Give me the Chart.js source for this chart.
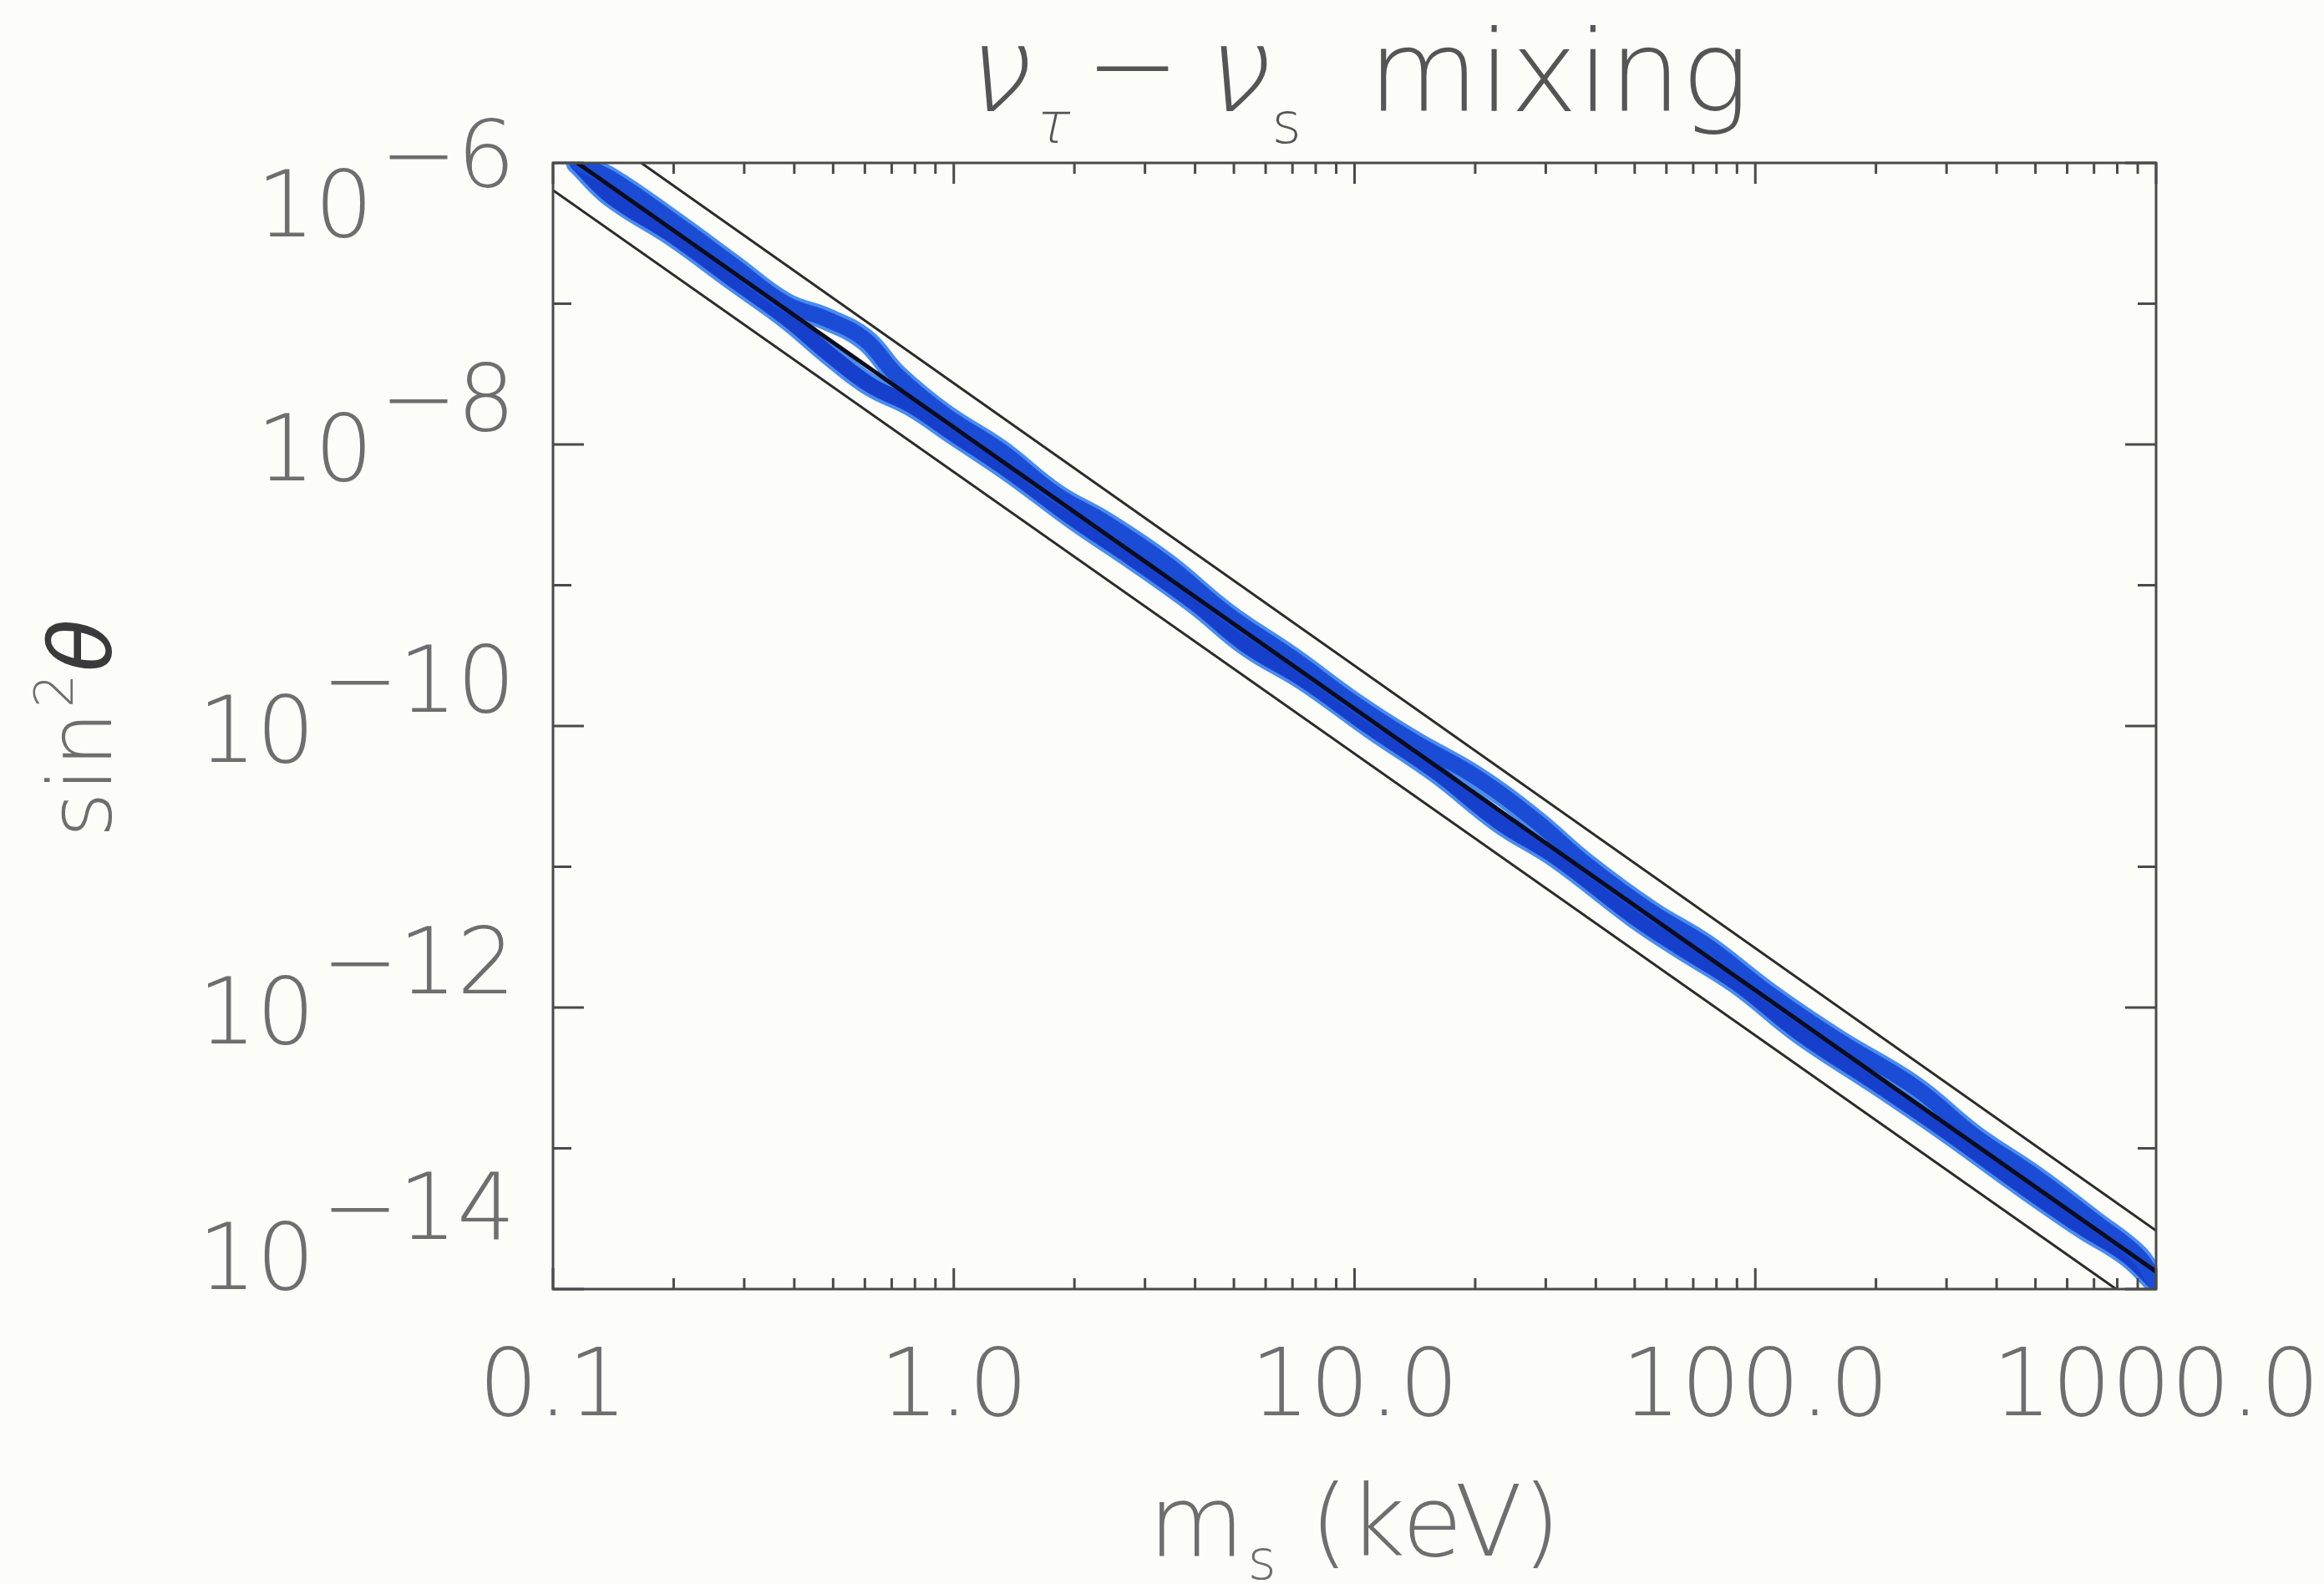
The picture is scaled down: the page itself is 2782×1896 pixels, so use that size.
<!DOCTYPE html>
<html>
<head>
<meta charset="utf-8">
<title>nu_tau - nu_s mixing</title>
<script src="https://cdn.jsdelivr.net/npm/chart.js@4.4.1/dist/chart.umd.min.js"></script>
<style>
  html, body { margin: 0; padding: 0; background: #fcfcf8; }
  #wrap { width: 2782px; height: 1896px; position: relative; }
</style>
</head>
<body>
<div id="wrap"><canvas id="mixChart"></canvas></div>
<script>
// Axis ranges and tick labels
const massRange = [0.1, 1000];
const mixRange = [1e-14, 1e-6];
const massTicks = [0.1, 1, 10, 100, 1000];
const massTickLabels = ['0.1', '1.0', '10.0', '100.0', '1000.0'];
const mixTickExponents = [-6, -8, -10, -12, -14];

// Straight black lines (m_s in keV, sin^2 theta)
const upperMass = [0.166, 1000];
const upperMix = [1.0e-6, 2.6e-14];
const centralMass = [0.115, 1000];
const centralMix = [1.0e-6, 1.33e-14];
const lowerMass = [0.1, 795];
const lowerMix = [6.4e-7, 1.0e-14];

// Blue marker strokes drawn along the central line
const blueUpperMass = [0.115, 0.14, 0.2, 0.28, 0.38, 0.48, 0.6, 0.72, 0.95, 1.3, 1.8, 2.4, 3.4, 4.8, 7, 10, 14, 20, 28, 38, 55, 75, 110, 160, 250, 350, 500, 700, 900, 1000];
const blueUpperMix = [1.0e-6, 7.67e-7, 3.81e-7, 1.89e-7, 1.0e-7, 7.80e-8, 5.57e-8, 3.11e-8, 1.62e-8, 9.14e-9, 4.40e-9, 2.76e-9, 1.41e-9, 6.26e-10, 3.03e-10, 1.44e-10, 7.78e-11, 4.37e-11, 2.17e-11, 1.03e-11, 4.77e-12, 2.79e-12, 1.21e-12, 5.88e-13, 2.72e-13, 1.24e-13, 6.27e-14, 3.03e-14, 1.73e-14, 1.1e-14];
const blueLowerMass = [0.115, 0.14, 0.2, 0.28, 0.38, 0.5, 0.62, 0.78, 1.0, 1.4, 2.0, 2.8, 4.0, 5.4, 7.5, 11, 16, 23, 32, 50, 65, 90, 130, 200, 300, 450, 650, 850, 1000];
const blueLowerMix = [1.0e-6, 5.76e-7, 3.02e-7, 1.50e-7, 8.03e-8, 4.16e-8, 2.63e-8, 1.91e-8, 1.19e-8, 6.25e-9, 2.94e-9, 1.54e-9, 7.45e-10, 3.72e-10, 2.12e-10, 9.72e-11, 4.72e-11, 2.08e-11, 1.16e-11, 4.39e-12, 2.67e-12, 1.49e-12, 6.50e-13, 2.90e-13, 1.32e-13, 5.73e-14, 2.78e-14, 1.72e-14, 1.1e-14];

const labelFont = "'DejaVu Sans', 'Liberation Sans', sans-serif";
const textGrey = '#6e6e6e';

function toPoints(xs, ys) {
    return xs.map((x, i) => ({ x: x, y: ys[i] }));
}

// Background colour of the scanned page
const pageBackground = {
    id: 'pageBackground',
    beforeDraw(chart) {
        const ctx = chart.ctx;
        ctx.save();
        ctx.fillStyle = '#fcfcf8';
        ctx.fillRect(0, 0, chart.width, chart.height);
        ctx.restore();
    }
};

// Box frame with inward ticks on all four sides
const axisFrame = {
    id: 'axisFrame',
    afterDatasetsDraw(chart) {
        const { ctx, chartArea: a, scales: { x, y } } = chart;
        ctx.save();
        ctx.strokeStyle = '#4a4a4a';
        ctx.lineWidth = 3;
        ctx.strokeRect(a.left, a.top, a.right - a.left, a.bottom - a.top);

        ctx.beginPath();
        for (let d = -1; d <= 3; d++) {
            for (let k = 1; k <= 9; k++) {
                const v = k * Math.pow(10, d);
                if (v > massRange[1] * 1.0001) continue;
                const px = x.getPixelForValue(v);
                const len = k === 1 ? 25 : 13;
                ctx.moveTo(px, a.bottom);
                ctx.lineTo(px, a.bottom - len);
                ctx.moveTo(px, a.top);
                ctx.lineTo(px, a.top + len);
            }
        }
        for (let e = -14; e <= -6; e++) {
            const py = y.getPixelForValue(Math.pow(10, e));
            const len = mixTickExponents.includes(e) ? 37 : 22;
            ctx.moveTo(a.left, py);
            ctx.lineTo(a.left + len, py);
            ctx.moveTo(a.right, py);
            ctx.lineTo(a.right - len, py);
        }
        ctx.stroke();
        ctx.restore();
    }
};

// Draws a run of text pieces (with sub/superscripts) centred on cx
function drawPieces(ctx, pieces, cx, baseline) {
    let total = 0;
    pieces.forEach(p => {
        ctx.font = p.font;
        p.w = ctx.measureText(p.text).width;
        total += p.w + (p.gap || 0);
    });
    let xPos = cx - total / 2;
    ctx.textAlign = 'left';
    ctx.textBaseline = 'alphabetic';
    pieces.forEach(p => {
        ctx.font = p.font;
        ctx.fillStyle = p.color || textGrey;
        ctx.save();
        ctx.translate(xPos, baseline + (p.dy || 0));
        if (p.skew) ctx.transform(1, 0, -p.skew, 1, 0, 0);
        ctx.fillText(p.text, 0, 0);
        ctx.restore();
        xPos += p.w + (p.gap || 0);
    });
}

// Title, axis titles and the 10^-n labels of the y axis
const plotText = {
    id: 'plotText',
    afterDraw(chart) {
        const { ctx, chartArea: a, scales: { y } } = chart;
        ctx.save();

        // y tick labels: "10" with a raised exponent
        ctx.font = `200 110px ${labelFont}`;
        ctx.fillStyle = textGrey;
        ctx.textAlign = 'right';
        ctx.textBaseline = 'alphabetic';
        const labelRight = a.left - 45;
        mixTickExponents.forEach(e => {
            const py = y.getPixelForValue(Math.pow(10, e));
            const centre = Math.min(Math.max(py + 3, a.top + 48), a.bottom - 40);
            const baseline = centre + 40;
            const expText = '\u2212' + Math.abs(e);
            ctx.fillText(expText, labelRight, baseline - 60);
            const w = ctx.measureText(expText).width;
            ctx.fillText('10', labelRight - w - 8, baseline);
        });

        const midX = (a.left + a.right) / 2;

        // Title
        const titleGrey = '#555555';
        drawPieces(ctx, [
            { text: '\u03bd', font: `200 142px ${labelFont}`, skew: 0.22, color: titleGrey, gap: 8 },
            { text: '\u03c4', font: `200 68px ${labelFont}`, skew: 0.22, dy: 38, color: titleGrey, gap: 22 },
            { text: '\u2212', font: `200 136px ${labelFont}`, dy: -8, color: titleGrey, gap: 22 },
            { text: '\u03bd', font: `200 142px ${labelFont}`, skew: 0.22, color: titleGrey, gap: 8 },
            { text: 's', font: `200 68px ${labelFont}`, dy: 38, color: titleGrey, gap: 80 },
            { text: 'mixing', font: `200 136px ${labelFont}`, color: titleGrey }
        ], midX, 133);

        // x axis title
        drawPieces(ctx, [
            { text: 'm', font: `200 118px ${labelFont}`, gap: 4 },
            { text: 's', font: `200 66px ${labelFont}`, dy: 28, gap: 40 },
            { text: '(keV)', font: `200 118px ${labelFont}` }
        ], midX, 1862);

        // y axis title, rotated
        ctx.save();
        ctx.translate(133, (a.top + a.bottom) / 2 + 3);
        ctx.rotate(-Math.PI / 2);
        drawPieces(ctx, [
            { text: 'sin', font: `200 106px ${labelFont}`, gap: 4 },
            { text: '2', font: `200 64px ${labelFont}`, dy: -46, gap: 2 },
            { text: '\u03b8', font: `italic 104px ${labelFont}`, color: '#3a3a3a' }
        ], 0, 0);
        ctx.restore();

        ctx.restore();
    }
};

const markerStyle = {
    tension: 0.4,
    borderCapStyle: 'round',
    borderJoinStyle: 'round'
};

const ctx = document.getElementById('mixChart').getContext('2d');

new Chart(ctx, {
    type: 'line',
    data: {
        datasets: [
            {
                label: 'central',
                data: toPoints(centralMass, centralMix),
                borderColor: '#0c0c1c',
                borderWidth: 5,
                order: 0
            },
            {
                label: 'upper bound',
                data: toPoints(upperMass, upperMix),
                borderColor: '#2b2b2b',
                borderWidth: 3,
                order: 0
            },
            {
                label: 'lower bound',
                data: toPoints(lowerMass, lowerMix),
                borderColor: '#2b2b2b',
                borderWidth: 3,
                order: 0
            },
            Object.assign({
                label: 'marker upper',
                data: toPoints(blueUpperMass, blueUpperMix),
                borderColor: '#1a4cd6',
                borderWidth: 19,
                order: 1
            }, markerStyle),
            Object.assign({
                label: 'marker lower',
                data: toPoints(blueLowerMass, blueLowerMix),
                borderColor: '#1640cc',
                borderWidth: 19,
                order: 2
            }, markerStyle),
            Object.assign({
                label: 'marker upper edge',
                data: toPoints(blueUpperMass, blueUpperMix),
                borderColor: '#4a8cf0',
                borderWidth: 27,
                order: 3
            }, markerStyle),
            Object.assign({
                label: 'marker lower edge',
                data: toPoints(blueLowerMass, blueLowerMix),
                borderColor: '#4a8cf0',
                borderWidth: 27,
                order: 4
            }, markerStyle)
        ]
    },
    options: {
        responsive: true,
        maintainAspectRatio: false,
        animation: false,
        events: [],
        layout: {
            padding: { left: 0, right: 201, top: 195, bottom: 0 }
        },
        elements: {
            point: { radius: 0 },
            line: { fill: false }
        },
        plugins: {
            legend: { display: false },
            tooltip: { enabled: false },
            title: { display: false }
        },
        scales: {
            x: {
                type: 'logarithmic',
                min: massRange[0],
                max: massRange[1],
                grid: { display: false, drawTicks: false },
                border: { display: false },
                afterBuildTicks: function (scale) {
                    scale.ticks = massTicks.map(v => ({ value: v }));
                },
                afterFit: function (scale) {
                    scale.height = 353;
                    scale.paddingLeft = 0;
                    scale.paddingRight = 0;
                },
                ticks: {
                    autoSkip: false,
                    maxRotation: 0,
                    padding: 66,
                    color: textGrey,
                    font: { family: labelFont, size: 112, weight: 200, lineHeight: 1 },
                    callback: function (value) {
                        const i = massTicks.indexOf(value);
                        return i >= 0 ? massTickLabels[i] : '';
                    }
                }
            },
            y: {
                type: 'logarithmic',
                min: mixRange[0],
                max: mixRange[1],
                grid: { display: false, drawTicks: false },
                border: { display: false },
                ticks: { display: false },
                afterFit: function (scale) {
                    scale.width = 662;
                }
            }
        }
    },
    plugins: [pageBackground, axisFrame, plotText]
});
</script>
</body>
</html>
